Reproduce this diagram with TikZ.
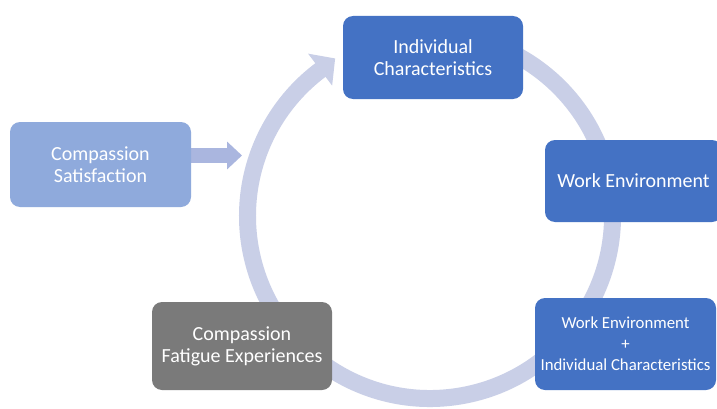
\documentclass[tikz,border=0pt]{standalone}
\usepackage{fontspec}
\setmainfont{Carlito}
\usetikzlibrary{arrows.meta,calc}

\definecolor{boxblue}{HTML}{4472C4}
\definecolor{paleblue}{HTML}{8FAADC}
\definecolor{boxgrey}{HTML}{7A7A7A}
\definecolor{ringcol}{HTML}{C9CFE7}
\definecolor{pointercol}{HTML}{AAB6DF}

\tikzset{
  stage/.style={rounded corners=10pt, inner sep=0pt, align=center,
    text=white, font=\fontsize{20}{22}\selectfont},
  darkstage/.style={stage, fill=boxblue},
  ringline/.style={draw=ringcol, line width=17pt},
  pointer/.style={draw=pointercol, line width=15pt,
    -{Triangle[width=27pt,length=15pt,fill=pointercol]}},
}

\begin{document}
\begin{tikzpicture}[x=1pt,y=1pt]
  \clip (0,0) rectangle (717,408);
  \fill[white] (0,0) rectangle (717,408);

  % circular flow ring with its head
  \coordinate (ctr) at (430,192);
  \draw[ringline] ($(ctr)+(100:182.5)$) arc[start angle=100, end angle=-234, radius=182.5];
  \coordinate (hb1) at ($(ctr)+(126.9:163)$);
  \coordinate (hb2) at ($(ctr)+(126.9:203)$);
  \coordinate (htip) at ($(ctr)+(126.9:183)+(15,11.2)$);
  \fill[ringcol] (hb1) -- (hb2) -- (htip) -- cycle;

  % pointer from satisfaction into the ring
  \coordinate (pa) at (186,252.5);
  \coordinate (pb) at (242,252.5);
  \draw[pointer] (pa) -- (pb);

  % stages
  \node[darkstage, minimum width=180pt, minimum height=83pt] (ic) at (433,350.5)
    {Individual\\Characteristics};
  \node[darkstage, minimum width=177pt, minimum height=82pt] (we) at (633.5,227)
    {Work Environment};
  \node[darkstage, minimum width=181pt, minimum height=92pt,
    font=\fontsize{16.8}{21}\selectfont] (weic) at (625.5,64)
    {Work Environment\\+\\Individual Characteristics};
  \node[stage, fill=boxgrey, minimum width=180pt, minimum height=88pt] (fat) at (242,62)
    {Compassion\\Fatigue Experiences};
  \node[stage, fill=paleblue, minimum width=181pt, minimum height=85pt] (cs) at (100.5,243.5)
    {Compassion\\Satisfaction};
\end{tikzpicture}
\end{document}
